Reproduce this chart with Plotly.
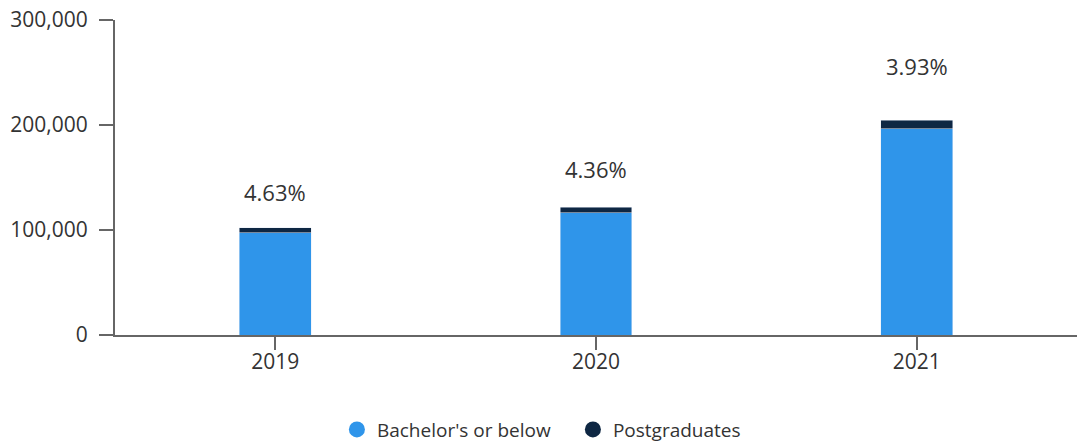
import plotly.graph_objects as go

years = ["2019", "2020", "2021"]
bachelor_or_below = [97560, 116590, 196660]
postgraduates = [4740, 5310, 8040]
share_labels = ["4.63%", "4.36%", "3.93%"]
y_ticks = [0, 100000, 200000, 300000]

BLUE = "#2f95ea"
NAVY = "#0e2743"
TEXT = "#333333"
FONT = "Open Sans"

# vertical lift of each share label above its stacked bar, in px
label_lift = [19, 21, 37]

fig = go.Figure()
fig.add_bar(x=years, y=bachelor_or_below, marker_color=BLUE, showlegend=False,
            hoverinfo="skip")
fig.add_bar(x=years, y=postgraduates, marker_color=NAVY, showlegend=False,
            hoverinfo="skip")

# legend entries drawn as round markers
for name, color in [("Bachelor's or below", BLUE), ("Postgraduates", NAVY)]:
    fig.add_scatter(x=[years[0]], y=[None], mode="markers", name=name,
                    marker=dict(symbol="circle", size=16, color=color))

# share labels sit above each stacked bar (category index as x position)
for i, (b, p, txt, lift) in enumerate(zip(bachelor_or_below, postgraduates,
                                          share_labels, label_lift)):
    fig.add_annotation(x=i, y=b + p, text=txt, showarrow=False,
                       yanchor="bottom", yshift=lift,
                       font=dict(family=FONT, size=22, color=TEXT))

fig.update_layout(
    barmode="stack",
    bargap=0.776,
    width=1078, height=445,
    margin=dict(l=115, r=1, t=20, b=110, autoexpand=False),
    plot_bgcolor="white", paper_bgcolor="white",
    font=dict(family=FONT, size=21, color=TEXT),
    legend=dict(orientation="h", x=0.476, xanchor="center", y=-0.24,
                yanchor="top", font=dict(size=19, color=TEXT),
                traceorder="normal", itemsizing="trace", itemwidth=30,
                entrywidth=191),
    xaxis=dict(type="category", range=[-0.5, len(years) - 0.5],
               showline=True, linecolor="#666666",
               linewidth=2, ticks="outside", ticklen=13, tickcolor="#666666",
               tickwidth=2, ticklabelstandoff=-6, showgrid=False,
               tickfont=dict(size=21, color=TEXT)),
    yaxis=dict(range=[0, 300000], tickvals=y_ticks, tickformat=",",
               showline=True, linecolor="#666666", linewidth=2,
               ticks="outside", ticklen=14, tickcolor="#666666", tickwidth=2,
               ticklabelstandoff=7,
               showgrid=False, zeroline=False,
               tickfont=dict(size=21, color=TEXT)),
)

fig.write_html("out.html")
